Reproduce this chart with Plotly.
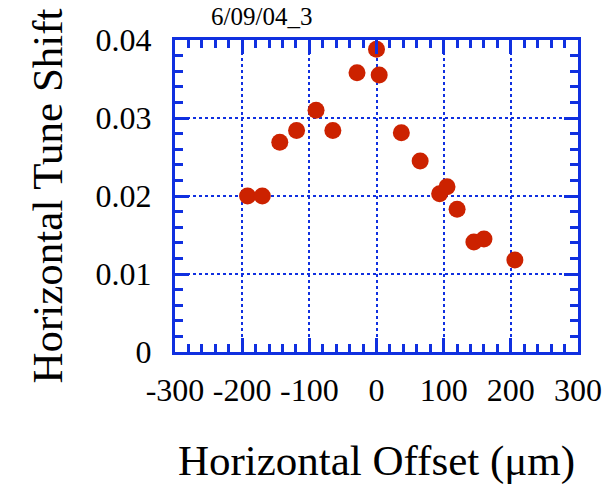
import plotly.graph_objects as go

# Horizontal offset (um) and measured horizontal tune shift
offset_um = [-192, -170, -144, -119, -90, -65, -29, 0, 4, 37, 65, 94, 105, 120, 145, 160, 206]
tune_shift = [0.0200, 0.0200, 0.0269, 0.0284, 0.0310, 0.0284, 0.0358, 0.0388, 0.0355,
              0.0281, 0.0245, 0.0203, 0.0212, 0.0183, 0.0141, 0.0145, 0.0118]

x_ticks = [-300, -200, -100, 0, 100, 200, 300]
y_ticks = [0, 0.01, 0.02, 0.03, 0.04]
y_tick_text = ["0", "0.01", "0.02", "0.03", "0.04"]

BLUE = "#1030e0"
RED = "#cc2200"
FONT = "Liberation Serif"

fig = go.Figure()
fig.add_trace(go.Scatter(
    x=offset_um, y=tune_shift, mode="markers",
    marker=dict(color=RED, size=17, line=dict(width=0)),
    showlegend=False,
))

axis_common = dict(
    showline=True, linecolor=BLUE, linewidth=3, mirror="allticks",
    ticks="inside", ticklen=14, tickwidth=3, tickcolor=BLUE,
    showgrid=True, gridcolor=BLUE, gridwidth=1.5, griddash="dot",
    zeroline=False,
    tickfont=dict(family=FONT, size=32, color="black"),
)

fig.update_xaxes(
    range=[-300, 300], tickvals=x_ticks, ticktext=[str(v) for v in x_ticks],
    minor=dict(dtick=20, ticks="inside", ticklen=8, tickwidth=3, tickcolor=BLUE, showgrid=False),
    ticklabelstandoff=8,
    title=dict(text="Horizontal Offset (μm)", font=dict(family=FONT, size=43, color="black"), standoff=38),
    **axis_common,
)
fig.update_yaxes(
    range=[0, 0.04], tickvals=y_ticks, ticktext=y_tick_text,
    minor=dict(dtick=0.002, ticks="inside", ticklen=8, tickwidth=3, tickcolor=BLUE, showgrid=False),
    ticklabelstandoff=14,
    title=dict(text="Horizontal Tune Shift", font=dict(family=FONT, size=43, color="black"), standoff=20),
    **axis_common,
)

fig.add_annotation(
    text="6/09/04_3", xref="paper", yref="paper", x=0.085, y=1.0, yshift=8,
    xanchor="left", yanchor="bottom", showarrow=False,
    font=dict(family=FONT, size=25, color="black"),
)

fig.update_layout(
    width=614, height=489,
    margin=dict(l=175, r=28, t=40, b=135),
    plot_bgcolor="white", paper_bgcolor="white",
)

fig.write_html("out.html")
